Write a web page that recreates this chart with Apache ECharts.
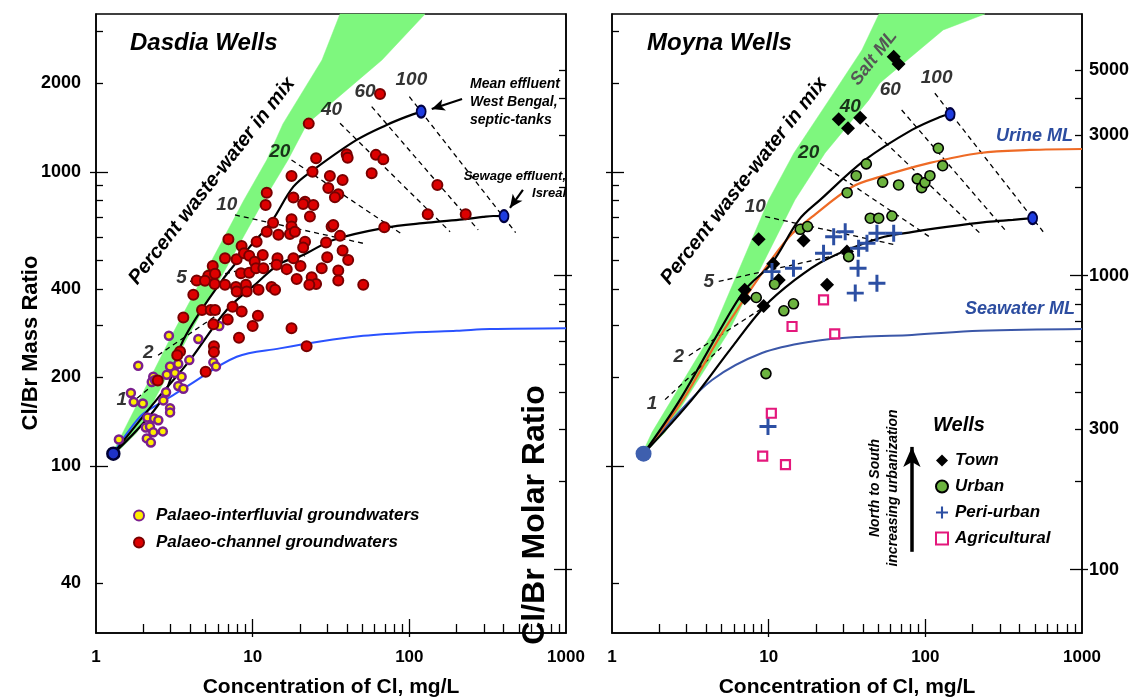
<!DOCTYPE html>
<html><head><meta charset="utf-8">
<script src="https://cdn.jsdelivr.net/npm/echarts@6/dist/echarts.min.js"></script>
<style>html,body{margin:0;padding:0;background:#fff}#c{width:1137px;height:697px}</style>
</head><body><div id="c"></div>
<script>
// ---------------- DATA ----------------
const xTickLabels = [1, 10, 100, 1000];
const xMinorTicks = [2,3,4,5,6,7,8,9,20,30,40,50,60,70,80,90,200,300,400,500,600,700,800,900];
const xMajorTicks = [10, 100];
const massTicks = [40,200,300,400,500,600,700,800,900,2000,3000];
const massMajorTicks = [100, 1000];
const massLabels = [40,100,200,400,1000,2000];
const molarTicks = [200,300,400,500,600,700,800,900,2000,3000,4000,5000];
const molarMajorTicks = [100, 1000];
const molarLabels = [100,300,1000,3000,5000];

// Dasdia (left panel)
const dasdiaInterfluvial = [[1.40,123],[1.67,177],[1.74,165],[1.99,163],[1.86,219],[2.92,277],[4.50,270],[6.12,299],[3.94,229],[2.32,201],[2.27,193],[2.38,196],[2.97,218],[3.35,222],[2.83,204],[3.19,207],[3.52,201],[3.35,187],[3.61,183],[2.80,178],[2.69,167],[2.97,157],[2.97,152],[5.61,225],[5.83,218],[2.13,146],[2.35,145],[2.50,143],[2.08,135],[2.21,136],[2.32,130],[2.67,131],[2.11,124],[2.24,120]];
const dasdiaChannel = [[65,1840],[22.8,1460],[25.4,1113],[39.8,1149],[40.4,1118],[61.2,1143],[68.2,1105],[24.1,1002],[17.7,969],[31.1,969],[37.5,939],[57.5,990],[12.3,850],[12.1,772],[18.2,818],[21.6,792],[21.0,778],[24.4,772],[30.4,882],[35.2,840],[33.5,820],[151,903],[23.2,705],[17.7,690],[17.7,652],[17.3,615],[18.6,626],[13.5,672],[14.6,611],[31.9,652],[32.7,660],[36.1,606],[69.2,648],[131,718],[229,718],[10.6,579],[12.3,626],[7.0,590],[8.5,560],[7.9,505],[8.8,529],[9.5,519],[10.3,495],[11.6,522],[6.66,509],[5.56,479],[5.21,443],[5.75,450],[4.39,427],[4.96,426],[6.66,413],[5.72,416],[8.42,452],[9.51,454],[10.5,470],[11.7,470],[7.82,406],[7.91,392],[9.06,413],[9.16,392],[10.9,397],[13.2,406],[13.9,397],[14.4,509],[14.2,483],[16.5,467],[18.2,509],[20.2,479],[19.1,432],[23.8,438],[25.4,416],[23.0,413],[4.18,382],[4.75,339],[5.40,339],[5.75,339],[7.45,348],[6.93,315],[8.51,335],[3.61,320],[5.61,303],[10.8,324],[10.0,299],[8.18,273],[17.7,294],[5.66,255],[5.66,244],[22.1,255],[3.44,245],[3.30,238],[5.01,209],[2.48,195],[21.6,579],[21.0,553],[29.4,575],[37.5,540],[29.9,513],[40.7,502],[27.6,470],[35.2,462],[35.2,427],[50.8,413]];
const dasdiaBackground = [[1.29,110]];
const dasdiaEffluents = [[119,1604],[402,707]];
const dasdiaMixWB = [[1.29,110],[2.63,168],[3.61,268],[6.18,418],[9.61,557],[13.2,678],[18.2,891],[24.4,1016],[46.1,1285],[71.6,1445],[96.1,1542],[119,1604]];
const dasdiaMixIsrael = [[1.29,110],[2.44,168],[3.98,229],[6.83,339],[10.6,418],[14.9,487],[21.0,522],[32.7,587],[68.2,644],[131,672],[220,690],[295,703],[343,708],[402,707]];
const dasdiaSeawater = [[1.29,110],[1.91,147],[2.44,161],[3.11,174],[3.79,186],[7.91,235],[14.9,251],[26.9,265],[50.8,277],[111,285],[200,288],[327,292],[1000,294]];
const dasdiaSaltBand = [[1.29,112],[3.10,283],[8.80,803],[12.3,1098],[15.6,1457],[27.7,2404],[36.1,3446],[126,3446],[66.9,2404],[22.2,1457],[16.8,1098],[11.8,803],[3.98,283],[1.83,130],[1.38,112]];
const dasdiaIsoLines = [
  [[1.83,170],[2.41,192]], [[2.49,238],[6.18,331]], [[3.98,424],[21.6,518]], [[7.71,714],[52.8,569]],
  [[17.7,1098],[89.3,615]], [[36.1,1464],[182,626]], [[57.5,1668],[275,635]], [[100,1804],[477,622]]
];
const pctNames = ['1','2','5','10','20','40','60','100'];
const dasdiaPctAnchors = [[1.46,168],[2.16,242],[3.52,435],[6.83,772],[14.9,1172],[31.9,1625],[52.1,1876],[103,2056]];

// Moyna (right panel)
const moynaTown = [[62.8,2467],[67.5,2329],[28.0,1512],[32.1,1408],[38.4,1530],[8.63,590],[10.7,487],[11.6,429],[7.03,397],[7.03,372],[9.29,350],[16.7,584],[23.6,413],[31.6,536]];
const moynaUrban = [[42.0,1065],[36.2,971],[31.7,850],[53.4,923],[67.5,903],[44.5,696],[50.4,696],[61.2,708],[121,1204],[129,1050],[88.8,947],[94.7,884],[99.4,920],[107,971],[15.9,638],[17.7,652],[8.33,374],[12.5,337],[14.4,356],[10.9,415],[32.4,515],[9.61,206]];
const moynaPeriUrban = [[10.5,458],[14.4,470],[22.4,529],[26.0,602],[30.8,626],[37.5,550],[42.4,572],[49.1,619],[62.8,619],[37.2,470],[49.1,418],[35.7,387],[9.90,136]];
const moynaAgricultural = [[22.4,367],[14.1,298],[26.4,281],[10.4,151],[9.16,108],[12.8,101]];
const moynaBackground = [[1.59,110]];
const moynaEffluents = [[144,1571],[484,696]];
const moynaMixWB = [[1.59,110],[2.72,168],[4.89,290],[7.06,397],[10.5,490],[15.6,687],[21.3,803],[41.2,1098],[82.1,1390],[124,1538],[144,1571]];
const moynaMixIsrael = [[1.59,110],[3.24,168],[5.66,248],[9.33,347],[14.7,429],[22.9,502],[51.3,596],[83.4,625],[137,650],[247,676],[362,687],[484,696]];
const moynaUrine = [[1.59,110],[2.84,168],[5.04,283],[9.06,453],[13.5,601],[18.9,703],[34.0,889],[51.3,962],[107,1073],[223,1160],[465,1188],[1000,1197]];
const moynaSeawater = [[1.59,110],[2.41,143],[4.35,196],[9.06,242],[18.9,265],[39.4,275],[82.1,279],[223,288],[1000,292]];
const moynaSaltBand = [[1.58,112],[1.80,130],[4.35,283],[10.0,803],[14.5,1160],[24.3,1758],[39.4,2600],[50.6,3446],[240,3446],[130,3041],[51.3,2008],[43.6,1758],[22.9,1160],[14.7,803],[5.50,283],[2.18,130],[1.65,112]];
const moynaIsoLines = [
  [[2.18,168],[5.04,254]], [[3.09,237],[9.33,347]], [[4.80,424],[30.8,529]], [[9.51,705],[64.3,565]],
  [[21.3,1070],[107,600]], [[41.4,1464],[223,619]], [[70.6,1625],[330,626]], [[115,1852],[565,626]]
];
const moynaPctAnchors = [[1.80,163],[2.67,235],[4.14,424],[8.21,762],[18.0,1158],[33.2,1668],[59.7,1901],[118,2083]];

// annotation arrows (data coordinates)
const dasdiaArrows = [[[217,1771],[139,1638]], [[531,869],[439,755]]];
const moynaArrow = [[82.1,51],[82.1,116]];

// ---------------- CHART ----------------
const FONT = '"Liberation Sans", Arial, Helvetica, sans-serif';
const MASS_MIN = 27, MASS_MAX = 3446;
const MOLAR = 79.904 / 35.453;
const tickLine = {color:'#000', width:1.3};
const fmt = v => String(Math.round(v));

function xAxesFor(grid) {
  const base = {type:'log', gridIndex:grid, min:1, max:1000, position:'bottom', splitLine:{show:false}};
  return [
    Object.assign({}, base, {
      axisLine:{show:true, onZero:false, lineStyle:{color:'#000', width:1.5}},
      axisTick:{show:true, inside:true, length:9, customValues:xMinorTicks, lineStyle:tickLine},
      axisLabel:{show:true, customValues:xTickLabels, margin:16, color:'#000', fontFamily:FONT, fontWeight:'bold', fontSize:17, formatter:fmt}
    }),
    Object.assign({}, base, {axisLine:{show:false, onZero:false}, axisTick:{show:true, inside:true, length:14, customValues:xMajorTicks, lineStyle:tickLine}, axisLabel:{show:false}}),
    Object.assign({}, base, {axisLine:{show:false, onZero:false}, axisTick:{show:true, inside:false, length:4, customValues:xMajorTicks, lineStyle:tickLine}, axisLabel:{show:false}})
  ];
}
function yAxesFor(grid, side, molar, ticks, majors, labels) {
  const f = molar ? MOLAR : 1;
  const base = {type:'log', gridIndex:grid, position:side, min:MASS_MIN*f, max:MASS_MAX*f, splitLine:{show:false}};
  return [
    Object.assign({}, base, {
      axisLine:{show:true, onZero:false, lineStyle:{color:'#000', width:1.5}},
      axisTick:{show:true, inside:true, length:7, customValues:ticks, lineStyle:tickLine},
      axisLabel: labels ? {show:true, customValues:labels, margin: side === 'left' ? 15 : 7, color:'#000', fontFamily:FONT, fontWeight:'bold', fontSize:18, formatter:fmt} : {show:false}
    }),
    Object.assign({}, base, {axisLine:{show:false, onZero:false}, axisTick:{show:true, inside:true, length:12, customValues:majors, lineStyle:tickLine}, axisLabel:{show:false}}),
    Object.assign({}, base, {axisLine:{show:false, onZero:false}, axisTick:{show:true, inside:false, length:6, customValues:majors, lineStyle:tickLine}, axisLabel:{show:false}})
  ];
}

const xAxis = [].concat(xAxesFor(0), xAxesFor(1));
const yAxis = [].concat(
  yAxesFor(0, 'left', false, massTicks, massMajorTicks, massLabels),
  yAxesFor(0, 'right', true, molarTicks, molarMajorTicks, null),
  yAxesFor(1, 'left', false, massTicks, massMajorTicks, null),
  yAxesFor(1, 'right', true, molarTicks, molarMajorTicks, molarLabels)
);
const AX = [{xAxisIndex:0, yAxisIndex:0}, {xAxisIndex:3, yAxisIndex:6}];

function band(g, pts) {
  return Object.assign({type:'custom', silent:true, z:1, data:[pts[0]],
    renderItem:(params, api) => ({type:'polygon', shape:{points: pts.map(p => api.coord(p))}, style:{fill:'#7ef77e', stroke:'#7ef77e', lineWidth:0.5}})
  }, AX[g]);
}
function curve(g, data, color, width, extra) {
  return Object.assign({type:'line', data, symbol:'none', smooth:0.35, silent:true, z:3,
    lineStyle:{color, width}}, AX[g], extra || {});
}
function dashed(g, data) {
  return Object.assign({type:'line', data, symbol:'none', silent:true, z:2,
    lineStyle:{color:'#000', width:1.3, type:[5,4]}}, AX[g]);
}
function pts(g, name, data, symbol, size, item, z) {
  return Object.assign({type:'scatter', name, data, symbol, symbolSize:size, silent:true, z: z || 5,
    itemStyle:Object.assign({opacity:1}, item)}, AX[g]);
}
function pctLabels(g, anchors) {
  return Object.assign({type:'scatter', silent:true, z:6, symbolSize:1, itemStyle:{color:'rgba(0,0,0,0)'},
    data: anchors.map((a, i) => ({name:pctNames[i], value:a})),
    label:{show:true, position:'inside', formatter:p => p.name, color:'#000', fontFamily:FONT, fontStyle:'italic', fontWeight:'bold', fontSize:19}
  }, AX[g]);
}
function arrows(list, width, size) {
  return {silent:true, symbol:['none','arrow'], symbolSize:size, animation:false, label:{show:false},
    lineStyle:{color:'#000', width, type:'solid', opacity:1}, emphasis:{disabled:true},
    data: list.map(a => [{coord:a[0]}, {coord:a[1]}])};
}

const series = [];
// left panel
series.push(band(0, dasdiaSaltBand));
dasdiaIsoLines.forEach(l => series.push(dashed(0, l)));
series.push(curve(0, dasdiaSeawater, '#2a52ff', 2));
series.push(curve(0, dasdiaMixWB, '#000', 2.2, {markLine: arrows(dasdiaArrows, 2.2, [9, 13])}));
series.push(curve(0, dasdiaMixIsrael, '#000', 2.2));
series.push(pts(0, 'Palaeo-interfluvial groundwaters', dasdiaInterfluvial, 'circle', 8, {color:'#ffee00', borderColor:'#7b1f8e', borderWidth:2.5}));
series.push(pts(0, 'Palaeo-channel groundwaters', dasdiaChannel, 'circle', 10, {color:'#dd0000', borderColor:'#780000', borderWidth:2}));
series.push(pts(0, 'bg', dasdiaBackground, 'circle', 12, {color:'#1e32c8', borderColor:'#000033', borderWidth:2.5}, 7));
series.push(pts(0, 'eff', dasdiaEffluents, 'circle', [9, 12], {color:'#1e3ce0', borderColor:'#000040', borderWidth:2}, 7));
series.push(pctLabels(0, dasdiaPctAnchors));
// right panel
series.push(band(1, moynaSaltBand));
moynaIsoLines.forEach(l => series.push(dashed(1, l)));
series.push(curve(1, moynaSeawater, '#3b57a8', 2, {markLine: arrows([moynaArrow], 3.5, [13, 20])}));
series.push(curve(1, moynaUrine, '#ee6a25', 2.2));
series.push(curve(1, moynaMixWB, '#000', 2.2));
series.push(curve(1, moynaMixIsrael, '#000', 2.2));
series.push(pts(1, 'Town', moynaTown, 'diamond', 14, {color:'#000'}));
series.push(pts(1, 'Urban', moynaUrban, 'circle', 10, {color:'#6cb33f', borderColor:'#000', borderWidth:1.6}));
series.push(pts(1, 'Peri-urban', moynaPeriUrban, 'path://M0,6.6H16V9.4H0Z M6.6,0H9.4V16H6.6Z', 17, {color:'#2c4fa3'}));
series.push(pts(1, 'Agricultural', moynaAgricultural, 'rect', 9, {color:'#fff', borderColor:'#e4187c', borderWidth:2.2}));
series.push(pts(1, 'bg2', moynaBackground, 'circle', 16, {color:'#3e5fae'}, 7));
series.push(pts(1, 'eff2', moynaEffluents, 'circle', [9, 12], {color:'#1e3ce0', borderColor:'#000040', borderWidth:2}, 7));
series.push(pctLabels(1, moynaPctAnchors));

const bi = (s) => 'italic bold ' + s + 'px ' + FONT;
const txt = (x, y, text, font, opts) => ({type:'text', x, y, silent:true, z:100,
  rotation: (opts && opts.rot) || 0,
  style: Object.assign({text, font, fill:'#000', textAlign:'center', textVerticalAlign:'middle'}, (opts && opts.style) || {})});
const D = Math.PI / 180;

const graphic = [
  txt(130, 43, 'Dasdia Wells', bi(24), {style:{textAlign:'left'}}),
  txt(647, 43, 'Moyna Wells', bi(24), {style:{textAlign:'left'}}),
  txt(212, 181, 'Percent waste-water in mix', bi(20), {rot:52*D}),
  txt(744, 181, 'Percent waste-water in mix', bi(20), {rot:52*D}),
  txt(874, 58, 'Salt ML', bi(18), {rot:52*D, style:{fill:'#555'}}),
  txt(470, 75, 'Mean effluent\nWest Bengal,\nseptic-tanks', bi(14), {style:{textAlign:'left', textVerticalAlign:'top', lineHeight:18}}),
  txt(566, 168, 'Sewage effluent,\nIsreal', bi(13), {style:{textAlign:'right', textVerticalAlign:'top', lineHeight:17}}),
  txt(1073, 136, 'Urine ML', bi(18), {style:{textAlign:'right', fill:'#2c4da0'}}),
  txt(1075, 309, 'Seawater ML', bi(18), {style:{textAlign:'right', fill:'#2c4da0'}}),
  txt(933, 425, 'Wells', bi(20), {style:{textAlign:'left'}}),
  txt(875, 488, 'North to South', bi(14), {rot:90*D}),
  txt(893, 488, 'increasing urbanization', bi(14), {rot:90*D}),
  txt(31, 343, 'Cl/Br Mass Ratio', 'bold 22px ' + FONT, {rot:90*D}),
  txt(535, 515, 'Cl/Br Molar Ratio', 'bold 32px ' + FONT, {rot:90*D}),
  txt(331, 687, 'Concentration of Cl, mg/L', 'bold 21px ' + FONT),
  txt(847, 687, 'Concentration of Cl, mg/L', 'bold 21px ' + FONT)
];

const legendText = {color:'#000', fontFamily:FONT, fontStyle:'italic', fontWeight:'bold', fontSize:17};
const option = {
  animation:false,
  backgroundColor:'#fff',
  textStyle:{fontFamily:FONT},
  grid:[
    {left:96, top:14, width:470, height:619, show:true, borderColor:'#000', borderWidth:1.5, backgroundColor:'transparent'},
    {left:612, top:14, width:470, height:619, show:true, borderColor:'#000', borderWidth:1.5, backgroundColor:'transparent'}
  ],
  xAxis, yAxis, series, graphic,
  legend:[
    {data:['Palaeo-interfluvial groundwaters','Palaeo-channel groundwaters'], orient:'vertical', left:133, top:507,
     itemWidth:24, itemHeight:10, itemGap:10, padding:0, selectedMode:false, textStyle:legendText},
    {data:['Town','Urban','Peri-urban','Agricultural'], orient:'vertical', left:935, top:452,
     itemWidth:12, itemHeight:12, itemGap:9, padding:0, selectedMode:false,
     textStyle:Object.assign({padding:[0,0,0,2]}, legendText)}
  ]
};
const chart = echarts.init(document.getElementById('c'), null, {renderer:'canvas', width:1137, height:697});
chart.setOption(option);
</script>
</body></html>
